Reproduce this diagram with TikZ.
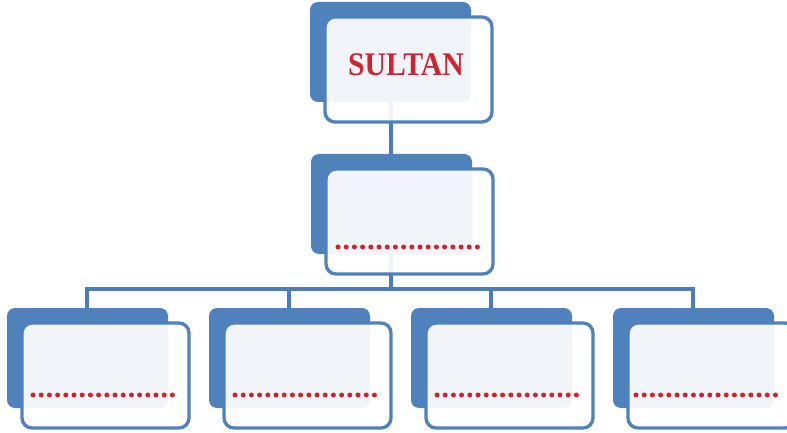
\documentclass[tikz,border=0pt]{standalone}
\usepackage{fontspec}
\setmainfont{Liberation Serif}
\usetikzlibrary{calc}
\definecolor{obox}{HTML}{4F81BD}
\definecolor{oline}{HTML}{4A7EBB}
\definecolor{ored}{HTML}{D2222D}
\tikzset{
  backbox/.style={fill=obox, draw=none, rounded corners=8pt},
  frontbox/.style={fill=white, fill opacity=0.92, draw=obox, draw opacity=1, line width=3.3pt, rounded corners=10pt},
  conn/.style={draw=oline, line width=3.8pt},
  reddot/.style={fill=ored, draw=none},
  title/.style={text=ored, font=\bfseries\fontsize{33}{36}\selectfont, inner sep=0pt}
}
\newcommand{\unitbox}[3]{% name, x, y (top-left of back box)
  \path[backbox] (#2,#3) rectangle ++(161,100);
  \coordinate (#1top) at ($(#2,#3)+(80,0)$);
  \coordinate (#1bot) at ($(#2,#3)+(80,100)$);
  \path[frontbox] ($(#2,#3)+(15,15)$) rectangle ++(167,105);
}
\newcommand{\dotrow}[2]{% x, y
  \foreach \k in {0,...,17} {\path[reddot] ($(#1,#2)+(\k*8.2,0)$) circle (2.5pt);}
}
\begin{document}
\begin{tikzpicture}[x=1pt,y=-1pt]
\useasboundingbox (0,0) rectangle (787,433);
% connectors (drawn first, seen faintly through boxes)
\coordinate (Tbot) at (391,101);
\coordinate (Mtop) at (391,154);
\coordinate (Mbot) at (391,254);
\coordinate (hub) at (391,289);
\coordinate (h1) at (87,289);
\coordinate (h4) at (693,289);
\coordinate (B1top) at (87,308);
\coordinate (B2top) at (289,308);
\coordinate (B3top) at (491,308);
\coordinate (B4top) at (693,308);
\draw[conn] (Tbot) -- (Mtop);
\draw[conn] (Mbot) -- (hub);
\draw[conn, line join=miter] (B1top) -- (h1) -- (h4) -- (B4top);
\draw[conn] (B2top |- hub) -- (B2top);
\draw[conn] (B3top |- hub) -- (B3top);
% boxes
\unitbox{T}{310}{2}
\unitbox{M}{311}{154}
\unitbox{Ba}{7}{308}
\unitbox{Bb}{209}{308}
\unitbox{Bc}{411}{308}
\unitbox{Bd}{613}{308}
% title
\node[title] (sultan) at (406,65) {\scalebox{0.9}[1]{SULTAN}};
% dotted lines
\dotrow{338}{247}
\dotrow{33}{395}
\dotrow{235}{395}
\dotrow{437}{395}
\dotrow{636}{395}
\end{tikzpicture}
\end{document}
